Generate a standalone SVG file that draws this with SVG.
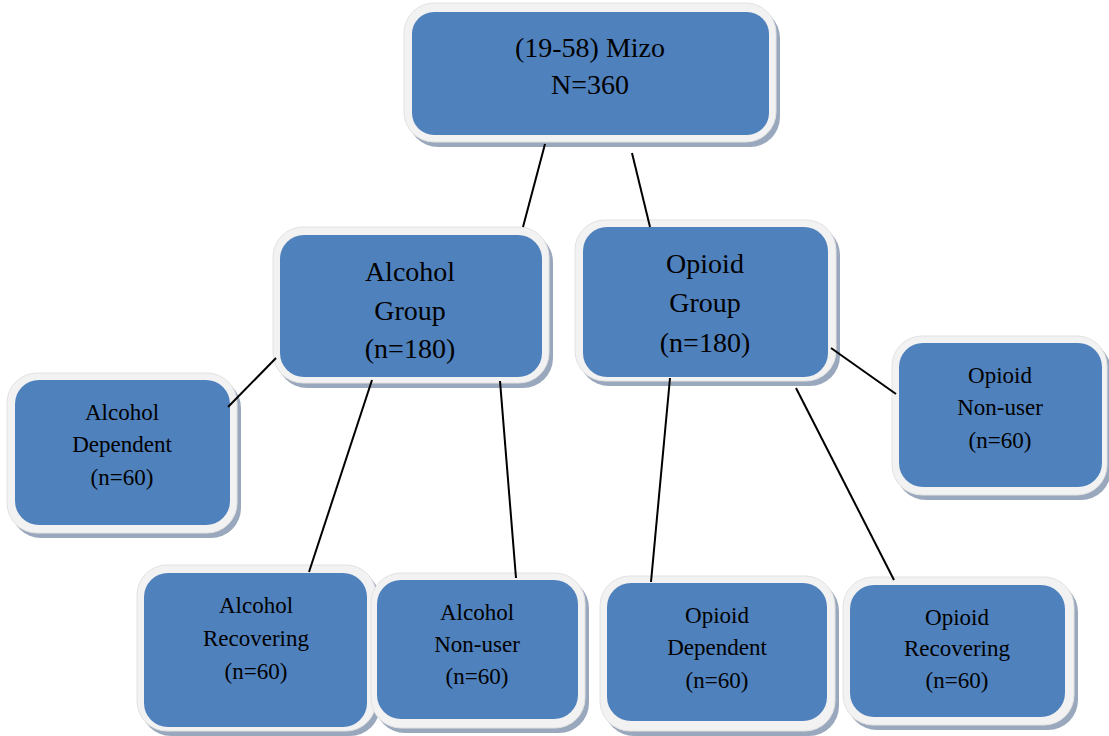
<svg xmlns="http://www.w3.org/2000/svg" width="1109" height="736" viewBox="0 0 1109 736">
<style>
.sh{fill:#9aa8bd}
.out{fill:#f2f2f2;stroke:#e2e2e2;stroke-width:1}
.in{fill:#4f81bd}
.t{font-family:"Liberation Serif","Times New Roman",serif;fill:#000;text-anchor:middle}
.b{font-size:28px}
.s{font-size:23px}
.c line{stroke:#000;stroke-width:2}
</style>
<rect width="1109" height="736" fill="#fff"/>
<g id="n-top">
<rect class="sh" x="408" y="8" width="372" height="139" rx="30"/>
<rect class="out" x="404" y="3" width="372" height="139" rx="30"/>
<rect class="in" x="412" y="12" width="357" height="123" rx="22"/>
<text class="t b" x="590" y="57">(19-58) Mizo</text>
<text class="t b" x="590" y="94">N=360</text>
</g>
<g id="n-alcohol">
<rect class="sh" x="277" y="232" width="276" height="156" rx="30"/>
<rect class="out" x="273" y="227" width="276" height="156" rx="30"/>
<rect class="in" x="280" y="235" width="262" height="142" rx="24"/>
<text class="t b" x="410" y="281">Alcohol</text>
<text class="t b" x="410" y="320">Group</text>
<text class="t b" x="410" y="358">(n=180)</text>
</g>
<g id="n-opioid">
<rect class="sh" x="579" y="225" width="261" height="161" rx="30"/>
<rect class="out" x="575" y="220" width="261" height="161" rx="30"/>
<rect class="in" x="583" y="227" width="245" height="150" rx="24"/>
<text class="t b" x="705" y="273">Opioid</text>
<text class="t b" x="705" y="312">Group</text>
<text class="t b" x="705" y="352">(n=180)</text>
</g>
<g id="n-alc-dep">
<rect class="sh" x="11" y="378" width="230" height="160" rx="30"/>
<rect class="out" x="7" y="373" width="230" height="160" rx="30"/>
<rect class="in" x="15" y="380" width="215" height="145" rx="24"/>
<text class="t s" x="122" y="420">Alcohol</text>
<text class="t s" x="122" y="452">Dependent</text>
<text class="t s" x="122" y="485">(n=60)</text>
</g>
<g id="n-alc-rec">
<rect class="sh" x="141" y="570" width="239" height="166" rx="30"/>
<rect class="out" x="137" y="565" width="239" height="166" rx="30"/>
<rect class="in" x="144" y="573" width="223" height="154" rx="24"/>
<text class="t s" x="256" y="613">Alcohol</text>
<text class="t s" x="256" y="646">Recovering</text>
<text class="t s" x="256" y="679">(n=60)</text>
</g>
<g id="n-alc-non">
<rect class="sh" x="375" y="578" width="214" height="155" rx="30"/>
<rect class="out" x="371" y="573" width="214" height="155" rx="30"/>
<rect class="in" x="377" y="580" width="201" height="139" rx="24"/>
<text class="t s" x="477" y="620">Alcohol</text>
<text class="t s" x="477" y="652">Non-user</text>
<text class="t s" x="477" y="684">(n=60)</text>
</g>
<g id="n-op-non">
<rect class="sh" x="896" y="341" width="215" height="159" rx="30"/>
<rect class="out" x="892" y="336" width="215" height="159" rx="30"/>
<rect class="in" x="899" y="343" width="203" height="144" rx="24"/>
<text class="t s" x="1000" y="383">Opioid</text>
<text class="t s" x="1000" y="415">Non-user</text>
<text class="t s" x="1000" y="448">(n=60)</text>
</g>
<g id="n-op-dep">
<rect class="sh" x="604" y="581" width="235" height="155" rx="30"/>
<rect class="out" x="600" y="576" width="235" height="155" rx="30"/>
<rect class="in" x="607" y="583" width="220" height="138" rx="24"/>
<text class="t s" x="717" y="623">Opioid</text>
<text class="t s" x="717" y="655">Dependent</text>
<text class="t s" x="717" y="688">(n=60)</text>
</g>
<g id="n-op-rec">
<rect class="sh" x="847" y="582" width="231" height="148" rx="30"/>
<rect class="out" x="843" y="577" width="231" height="148" rx="30"/>
<rect class="in" x="850" y="585" width="215" height="132" rx="24"/>
<text class="t s" x="957" y="625">Opioid</text>
<text class="t s" x="957" y="656">Recovering</text>
<text class="t s" x="957" y="688">(n=60)</text>
</g>
<g class="c">
<line x1="545" y1="144" x2="523" y2="227"/>
<line x1="632" y1="153" x2="650" y2="227"/>
<line x1="276" y1="358" x2="228" y2="407"/>
<line x1="372" y1="380" x2="309" y2="572"/>
<line x1="500" y1="381" x2="516" y2="578"/>
<line x1="670" y1="378" x2="651" y2="582"/>
<line x1="796" y1="388" x2="894" y2="580"/>
<line x1="831" y1="348" x2="896" y2="394"/>
</g>
</svg>
